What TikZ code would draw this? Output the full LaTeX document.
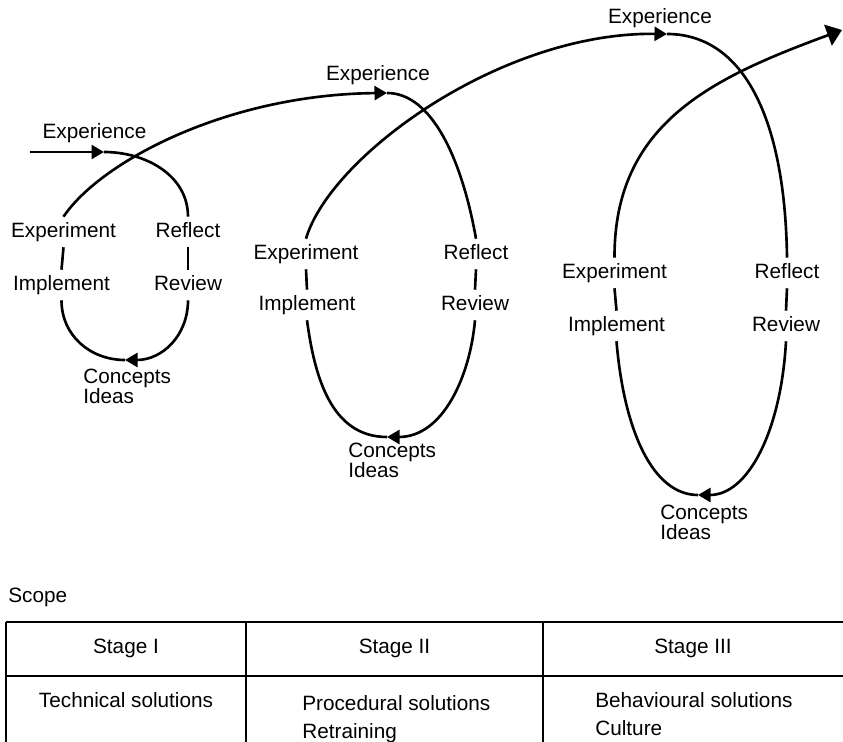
\documentclass[tikz,border=0pt]{standalone}
\usepackage{fontspec}
\setmainfont{Liberation Sans}
\usetikzlibrary{arrows.meta}

\tikzset{
  loopline/.style={line width=1.5pt},
  midtip/.style={-{Triangle[length=2.5mm,width=2.8mm]}},
  endtip/.style={-{Triangle[length=3mm,width=4.4mm]}},
  lbl/.style={font=\fontsize{11.8}{13}\selectfont, inner sep=3pt, text height=8.5pt, text depth=2.5pt},
  twoline/.style={font=\fontsize{11.8}{11.4}\selectfont, inner sep=0pt, align=left, anchor=north west},
  cell/.style={font=\fontsize{11.8}{15.9}\selectfont, inner sep=0pt, align=left, anchor=north west},
  tablerule/.style={line width=0.9pt}
}

\begin{document}
\begin{tikzpicture}
    \useasboundingbox (0,0) rectangle (16.86,14.84);

    % loop 1
    \node[lbl] (exp1) at (1.89,12.18) {Experience};
    \node[lbl] (expt1) at (1.27,10.2) {Experiment};
    \node[lbl] (refl1) at (3.76,10.2) {Reflect};
    \node[lbl] (impl1) at (1.23,9.14) {Implement};
    \node[lbl] (rev1) at (3.76,9.14) {Review};
    \node[twoline] (conc1) at (1.66,7.46) {Concepts\\Ideas};

    % loop 2
    \node[lbl] (exp2) at (7.56,13.34) {Experience};
    \node[lbl] (expt2) at (6.12,9.76) {Experiment};
    \node[lbl] (refl2) at (9.52,9.76) {Reflect};
    \node[lbl] (impl2) at (6.14,8.74) {Implement};
    \node[lbl] (rev2) at (9.5,8.74) {Review};
    \node[twoline] (conc2) at (6.96,5.98) {Concepts\\Ideas};

    % loop 3
    \node[lbl] (exp3) at (13.2,14.48) {Experience};
    \node[lbl] (expt3) at (12.29,9.38) {Experiment};
    \node[lbl] (refl3) at (15.74,9.38) {Reflect};
    \node[lbl] (impl3) at (12.33,8.32) {Implement};
    \node[lbl] (rev3) at (15.72,8.32) {Review};
    \node[twoline] (conc3) at (13.2,4.74) {Concepts\\Ideas};

    \coordinate (s) at (0.6,11.8);
    \coordinate (a1) at (2.08,11.8);
    \coordinate (b1) at (2.5,7.64);
    \coordinate (a2) at (7.74,12.98);
    \coordinate (b2) at (7.74,6.1);
    \coordinate (a3) at (13.34,14.16);
    \coordinate (b3) at (13.96,4.94);
    \coordinate (e) at (16.84,14.24);

    \draw[loopline,midtip] (s) -- (a1);
    \draw[loopline] (a1) .. controls +(0.83,0) and +(0,0.83) .. (refl1.north);
    \draw[loopline] (refl1.south) -- (rev1.north);
    \draw[loopline,midtip] (rev1.south) .. controls +(0,-0.7) and +(0.75,0) .. (b1);
    \draw[loopline] (b1) .. controls +(-0.7,0) and +(0,-0.7) .. (impl1.south);
    \draw[loopline] (impl1.north) -- (expt1.south);
    \draw[loopline,midtip] (expt1.north) .. controls +(0.74,1.1) and +(-3.2,-0.03) .. (a2);

    \draw[loopline] (a2) .. controls +(0.9,0) and +(-0.28,1.58) .. (refl2.north);
    \draw[loopline] (refl2.south) -- (rev2.north);
    \draw[loopline,midtip] (rev2.south) .. controls +(-0.1,-1.12) and +(1.12,0) .. (b2);
    \draw[loopline] (b2) .. controls +(-1.12,0) and +(0.15,-1.12) .. (impl2.south);
    \draw[loopline] (impl2.north) -- (expt2.south);
    \draw[loopline,midtip] (expt2.north) .. controls +(0.48,1.64) and +(-3.34,0.04) .. (a3);

    \draw[loopline] (a3) .. controls +(1.46,0) and +(-0.04,2.92) .. (refl3.north);
    \draw[loopline] (refl3.south) -- (rev3.north);
    \draw[loopline,midtip] (rev3.south) .. controls +(-0.1,-1.8) and +(1.0,0) .. (b3);
    \draw[loopline] (b3) .. controls +(-0.9,0) and +(0.15,-1.8) .. (impl3.south);
    \draw[loopline] (impl3.north) -- (expt3.south);
    \draw[loopline,endtip] (expt3.north) .. controls +(-0.01,2.72) and +(-2.54,-0.94) .. (e);

    % scope table
    \node[lbl, anchor=west, inner sep=0pt] (scope) at (0.16,2.9) {Scope};
    \foreach \x in {0.12,4.92,10.86}
        \draw[tablerule] (\x,0) -- (\x,2.4);
    \draw[tablerule] (0.12,2.4) -- (16.86,2.4);
    \draw[tablerule] (0.12,1.32) -- (16.86,1.32);

    \node[lbl] (st1) at (2.52,1.88) {Stage I};
    \node[lbl] (st2) at (7.89,1.88) {Stage II};
    \node[lbl] (st3) at (13.86,1.88) {Stage III};
    \node[lbl] (tech) at (2.52,0.8) {Technical solutions};
    \node[cell] (proc) at (6.04,0.94) {Procedural solutions\\Retraining};
    \node[cell] (behav) at (11.9,0.99) {Behavioural solutions\\Culture};
\end{tikzpicture}
\end{document}
